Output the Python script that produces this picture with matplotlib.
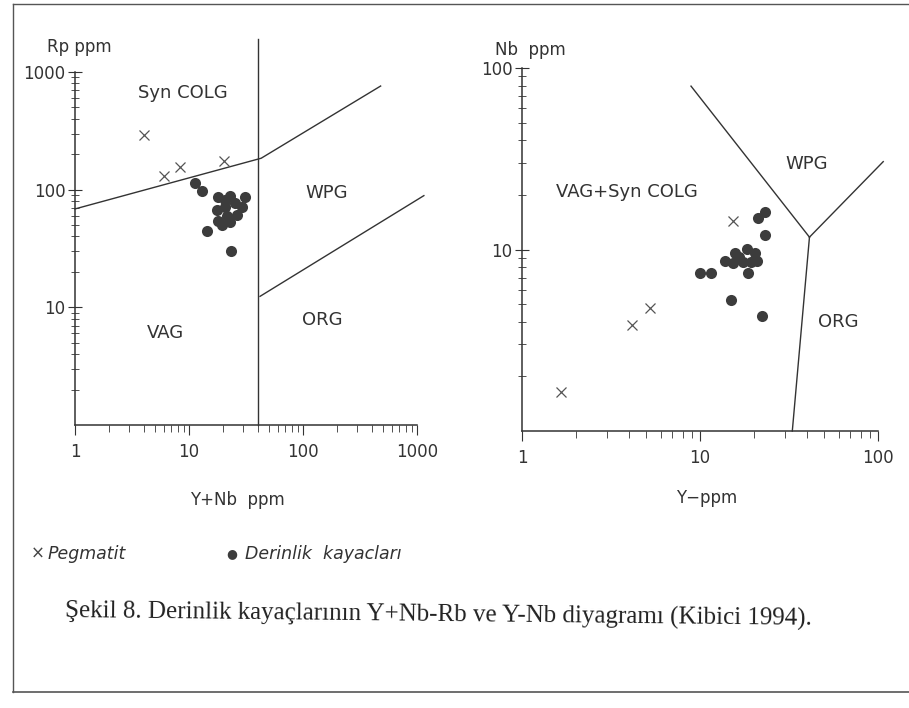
import matplotlib
matplotlib.use('Agg')
import matplotlib.pyplot as plt
from matplotlib.lines import Line2D
from matplotlib.ticker import NullFormatter, FixedLocator

# --- Y+Nb vs Rb (left) ---
peg_ynb = [4.0, 6.0, 8.3, 20.1]
peg_rb = [290, 131, 157, 176]

der_ynb = [11.3, 13.0, 18.0, 22.9, 31.0, 29.2, 17.6, 20.7, 18.0, 22.9, 26.4, 19.5,
           14.4, 23.4, 20.7, 25.3, 21.5]
der_rb = [114, 97, 86, 88, 86, 71, 67, 71, 54, 53, 61, 50,
          44.5, 30, 81, 77, 60]

# boundaries (x, y) for left diagram
left_vline_x = [40, 40]
left_vline_y = [1, 1900]
left_upper_x = [1, 43, 480]
left_upper_y = [68.6, 185, 760]
left_lower_x = [42, 1150]
left_lower_y = [12.4, 89]

# --- Y vs Nb (right) ---
peg_y = [1.66, 4.15, 5.24, 15.3]
peg_nb = [1.65, 3.83, 4.76, 14.3]

der_y = [23.2, 21.2, 23.2, 13.8, 15.7, 18.4, 20.4, 20.9, 17.4, 15.3, 18.6, 10.0,
         11.5, 14.9, 22.3, 16.5, 19.3]
der_nb = [16.1, 14.9, 12.0, 8.7, 9.6, 10.1, 9.6, 8.7, 8.5, 8.4, 7.45, 7.45,
          7.45, 5.3, 4.3, 9.1, 8.5]

right_wpg_x = [8.9, 41.2]
right_wpg_y = [79.5, 11.7]
right_org_x = [41.2, 107]
right_org_y = [11.7, 30.5]
right_low_x = [41.2, 33]
right_low_y = [11.7, 1]

ink = '#333333'
dot_c = '#3c3c3c'
plt.rcParams['font.family'] = ['DejaVu Sans']

fig = plt.figure(figsize=(9.09, 7.08), dpi=100)

def style(ax):
    ax.set_xscale('log')
    ax.set_yscale('log')
    for s in ['top', 'right']:
        ax.spines[s].set_visible(False)
    for s in ['left', 'bottom']:
        ax.spines[s].set_color(ink)
        ax.spines[s].set_linewidth(1.1)
    ax.tick_params(axis='x', which='major', direction='out', length=7, color=ink,
                   labelsize=12, labelcolor=ink, pad=6)
    ax.tick_params(axis='x', which='minor', direction='out', length=5, color=ink)
    ax.tick_params(axis='y', which='major', direction='inout', length=10, color=ink,
                   labelsize=12, labelcolor=ink, pad=2)
    ax.tick_params(axis='y', which='minor', direction='inout', length=6, color=ink)
    ax.xaxis.set_minor_formatter(NullFormatter())
    ax.yaxis.set_minor_formatter(NullFormatter())
    ax.patch.set_alpha(0)

# left panel
ax1 = fig.add_axes([0.0825, 0.3997, 0.3762, 0.4986])
style(ax1)
ax1.set_xlim(1, 1000)
ax1.set_ylim(1, 1000)
ax1.xaxis.set_major_locator(FixedLocator([1, 10, 100, 1000]))
ax1.yaxis.set_major_locator(FixedLocator([10, 100, 1000]))
ax1.set_xticklabels(['1', '10', '100', '1000'])
ax1.set_yticklabels(['10', '100', '1000'])
ax1.plot(left_vline_x, left_vline_y, color=ink, lw=1, clip_on=False)
ax1.plot(left_upper_x, left_upper_y, color=ink, lw=1, clip_on=False)
ax1.plot(left_lower_x, left_lower_y, color=ink, lw=1, clip_on=False)
ax1.plot(peg_ynb, peg_rb, 'x', color='#555555', ms=7, mew=0.9, clip_on=False)
ax1.plot(der_ynb, der_rb, 'o', color=dot_c, ms=8, mew=0, clip_on=False)
ax1.text(8.85, 662, 'Syn COLG', ha='center', va='center', fontsize=13, color=ink)
ax1.text(162, 93.6, 'WPG', ha='center', va='center', fontsize=13, color=ink)
ax1.text(6.16, 6.05, 'VAG', ha='center', va='center', fontsize=13, color=ink)
ax1.text(147, 7.8, 'ORG', ha='center', va='center', fontsize=13, color=ink)
fig.text(47 / 909, 1 - 47 / 708, 'Rp ppm', ha='left', va='center', fontsize=12, color=ink)
fig.text(237 / 909, 1 - 500 / 708, 'Y+Nb  ppm', ha='center', va='center', fontsize=12, color=ink)

# right panel
ax2 = fig.add_axes([0.5743, 0.3912, 0.3916, 0.5127])
style(ax2)
ax2.set_xlim(1, 100)
ax2.set_ylim(1, 100)
ax2.xaxis.set_major_locator(FixedLocator([1, 10, 100]))
ax2.yaxis.set_major_locator(FixedLocator([10, 100]))
ax2.set_xticklabels(['1', '10', '100'])
ax2.set_yticklabels(['10', '100'])
ax2.plot(right_wpg_x, right_wpg_y, color=ink, lw=1, clip_on=False)
ax2.plot(right_org_x, right_org_y, color=ink, lw=1, clip_on=False)
ax2.plot(right_low_x, right_low_y, color=ink, lw=1, clip_on=False)
ax2.plot(peg_y, peg_nb, 'x', color='#555555', ms=7, mew=0.9, clip_on=False)
ax2.plot(der_y, der_nb, 'o', color=dot_c, ms=8, mew=0, clip_on=False)
ax2.text(3.89, 20.8, 'VAG+Syn COLG', ha='center', va='center', fontsize=13, color=ink)
ax2.text(39.9, 29.5, 'WPG', ha='center', va='center', fontsize=13, color=ink)
ax2.text(59.6, 4.0, 'ORG', ha='center', va='center', fontsize=13, color=ink)
fig.text(495 / 909, 1 - 50 / 708, 'Nb  ppm', ha='left', va='center', fontsize=12, color=ink)
fig.text(707 / 909, 1 - 498 / 708, 'Y\u2212ppm', ha='center', va='center', fontsize=12, color=ink)

# legend row
fig.text(38 / 909, 1 - 554 / 708, '\u00d7', ha='center', va='center', fontsize=12, color='#444444')
fig.text(48 / 909, 1 - 554 / 708, 'Pegmatit', ha='left', va='center', fontsize=12.5,
         style='italic', color=ink)
fig.text(232 / 909, 1 - 554 / 708, '\u25cf', ha='center', va='center', fontsize=9, color=dot_c)
fig.text(245 / 909, 1 - 554 / 708, 'Derinlik  kayacları', ha='left', va='center', fontsize=12.5,
         style='italic', color=ink)

# caption
fig.text(65 / 909, 1 - 611 / 708,
         'Şekil 8. Derinlik kayaçlarının Y+Nb-Rb ve Y-Nb diyagramı (Kibici 1994).',
         ha='left', va='center', fontsize=18, family='Liberation Serif', color='#222222',
         rotation=-0.6, rotation_mode='anchor')

# page border from the scan
border = '#555555'
fig.add_artist(Line2D([13 / 909, 13 / 909], [1 - 4 / 708, 1 - 692 / 708],
                      transform=fig.transFigure, color=border, lw=1))
fig.add_artist(Line2D([13 / 909, 1.0], [1 - 4 / 708, 1 - 4 / 708],
                      transform=fig.transFigure, color=border, lw=1))
fig.add_artist(Line2D([13 / 909, 1.0], [1 - 692 / 708, 1 - 692 / 708],
                      transform=fig.transFigure, color=border, lw=1.2))

fig.savefig('out.png', dpi=100)
